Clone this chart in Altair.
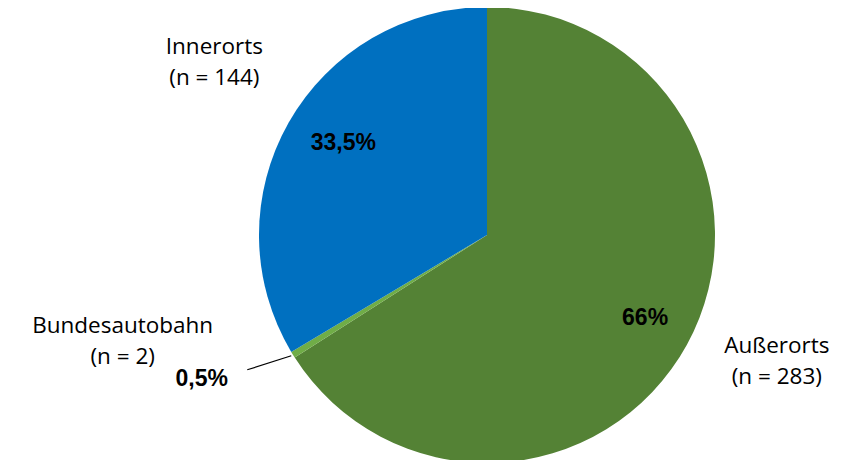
import math
import altair as alt
import pandas as pd

# data
categories = ["Außerorts", "Bundesautobahn", "Innerorts"]
counts = [283, 2, 144]
pct_labels = ["66%", "0,5%", "33,5%"]
name_labels = ["Außerorts\n(n = 283)", "Bundesautobahn\n(n = 2)", "Innerorts\n(n = 144)"]
colors = ["#548235", "#70AD47", "#0070C0"]

df = pd.DataFrame({
    "kategorie": categories,
    "n": counts,
    "reihenfolge": list(range(len(categories))),
    "pct": pct_labels,
    "name": name_labels,
})

W, H = 830, 452
CX, CY = 479, 227
R = 228

def only(field, cat):
    return alt.expr.if_(alt.datum.kategorie == cat, alt.datum[field], "")

base = alt.Chart(df).encode(
    theta=alt.Theta("n:Q", stack=True),
    order=alt.Order("reihenfolge:Q"),
    x=alt.value(CX),
    y=alt.value(CY),
)

pie = base.mark_arc(radius=R).encode(
    color=alt.Color("kategorie:N",
                    scale=alt.Scale(domain=categories, range=colors),
                    legend=None)
)

pct_font = dict(font="Liberation Sans", fontWeight="bold", fontSize=23,
                color="black", align="center", baseline="middle")
name_font = dict(font="Open Sans", fontSize=22.5, color="black", align="center",
                 baseline="middle", lineBreak="\n", lineHeight=31)

def label_layer(field, cat, radius, dx, dy, style):
    return base.transform_calculate(
        lab=only(field, cat)
    ).mark_text(radius=radius, dx=dx, dy=dy, **style).encode(text="lab:N")

t66 = label_layer("pct", "Außerorts", 178, 2, -3, pct_font)
t335 = label_layer("pct", "Innerorts", 171, 5, -8, pct_font)
t05 = label_layer("pct", "Bundesautobahn", 300, -30, -14, pct_font)
n_aus = label_layer("name", "Außerorts", 318, 11, -42, name_font)
n_inn = label_layer("name", "Innerorts", 325, 10, -28, name_font)
n_bab = label_layer("name", "Bundesautobahn", 340, -75, -88, name_font)

# leader line for the small slice, derived from its mid angle
total = sum(counts)
start = counts[0] / total * 2 * math.pi
mid = start + counts[1] / total * math.pi
x1 = CX + (R + 2) * math.sin(mid)
y1 = CY - (R + 2) * math.cos(mid)
leader = alt.Chart(df.head(1)).mark_rule(color="black", strokeWidth=1.2).encode(
    x=alt.value(x1), y=alt.value(y1),
    x2=alt.value(x1 - 44), y2=alt.value(y1 + 14),
)

chart = alt.layer(pie, t66, t335, t05, n_aus, n_inn, n_bab, leader).properties(
    width=W, height=H, padding=0,
    autosize=alt.AutoSizeParams(type="none"),
    background="white",
).configure_view(stroke=None)

chart.save("out.html", embed_options={"renderer": "svg", "actions": False})
